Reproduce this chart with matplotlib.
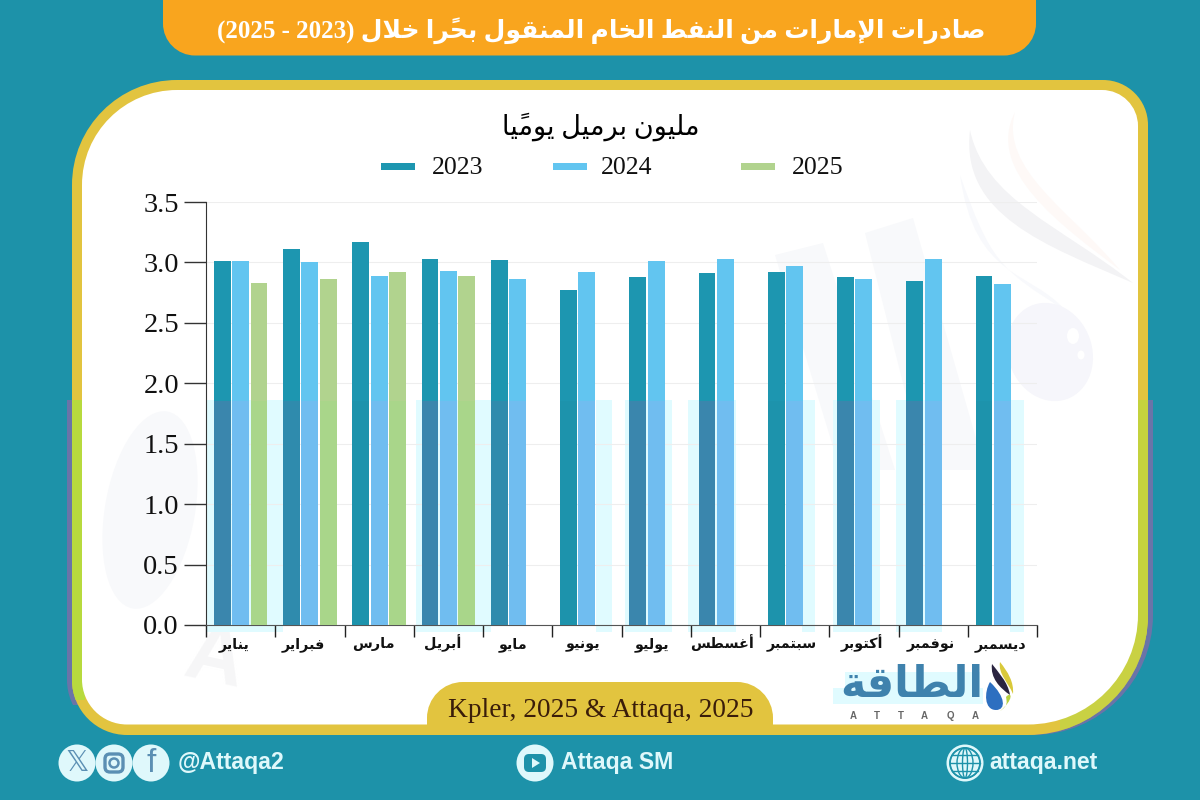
import numpy as np
import matplotlib
matplotlib.use("Agg")
import matplotlib.pyplot as plt
from matplotlib.patches import PathPatch, Circle, Rectangle, FancyBboxPatch, Polygon, Ellipse
from matplotlib.path import Path

# ---------- data ----------
months = ["يناير", "فبراير", "مارس", "أبريل", "مايو", "يونيو", "يوليو",
          "أغسطس", "سبتمبر", "أكتوبر", "نوفمبر", "ديسمبر"]
years = ["2023", "2024", "2025"]
values_2023 = [3.01, 3.11, 3.17, 3.03, 3.02, 2.77, 2.88, 2.91, 2.92, 2.88, 2.85, 2.89]
values_2024 = [3.01, 3.00, 2.89, 2.93, 2.86, 2.92, 3.01, 3.03, 2.97, 2.86, 3.03, 2.82]
values_2025 = [2.83, 2.86, 2.92, 2.89]
yticks = [0.0, 0.5, 1.0, 1.5, 2.0, 2.5, 3.0, 3.5]
title_text = "صادرات الإمارات من النفط الخام المنقول بحرًا خلال (2023 - 2025)"
unit_text = "مليون برميل يوميًا"
source_text = "Kpler, 2025 & Attaqa, 2025"
logo_text = "الطاقة"

# ---------- colours ----------
TEAL = "#1d92a9"; ORANGE = "#f9a51e"; GOLD = "#e2c43f"
C23 = "#1d96b0"; C24 = "#62c5f0"; C25 = "#b1d38e"
TINT = "#e0fbff"; PALE = "#f8f9fb"

# ---------- Arabic shaping (matplotlib draws glyphs left to right, unshaped) ----------
FORMS = {
 "ا": (0xFE8D, 0xFE8E, None, None), "أ": (0xFE83, 0xFE84, None, None), "إ": (0xFE87, 0xFE88, None, None),
 "ب": (0xFE8F, 0xFE90, 0xFE91, 0xFE92), "ت": (0xFE95, 0xFE96, 0xFE97, 0xFE98), "ة": (0xFE93, 0xFE94, None, None),
 "ح": (0xFEA1, 0xFEA2, 0xFEA3, 0xFEA4), "خ": (0xFEA5, 0xFEA6, 0xFEA7, 0xFEA8), "د": (0xFEA9, 0xFEAA, None, None),
 "ر": (0xFEAD, 0xFEAE, None, None), "س": (0xFEB1, 0xFEB2, 0xFEB3, 0xFEB4), "ص": (0xFEB9, 0xFEBA, 0xFEBB, 0xFEBC),
 "ط": (0xFEC1, 0xFEC2, 0xFEC3, 0xFEC4), "غ": (0xFECD, 0xFECE, 0xFECF, 0xFED0), "ف": (0xFED1, 0xFED2, 0xFED3, 0xFED4),
 "ق": (0xFED5, 0xFED6, 0xFED7, 0xFED8), "ك": (0xFED9, 0xFEDA, 0xFEDB, 0xFEDC), "ل": (0xFEDD, 0xFEDE, 0xFEDF, 0xFEE0),
 "م": (0xFEE1, 0xFEE2, 0xFEE3, 0xFEE4), "ن": (0xFEE5, 0xFEE6, 0xFEE7, 0xFEE8), "و": (0xFEED, 0xFEEE, None, None),
 "ي": (0xFEF1, 0xFEF2, 0xFEF3, 0xFEF4),
}
LAM_ALEF = {"ا": (0xFEFB, 0xFEFC), "أ": (0xFEF7, 0xFEF8), "إ": (0xFEF9, 0xFEFA)}
MARK = "\u064b"
MIRROR = {"(": ")", ")": "("}

def shape(text):
    letters = []
    i = 0
    while i < len(text):
        c = text[i]
        if c == "ل" and i + 1 < len(text) and text[i + 1] in LAM_ALEF:
            letters.append(("LA", text[i + 1])); i += 2; continue
        letters.append(("C", c)); i += 1
    out = []
    def joins_next(it):
        return it[0] == "C" and it[1] in FORMS and FORMS[it[1]][2] is not None
    n = len(letters)
    for k, (kind, c) in enumerate(letters):
        if c == MARK and kind == "C":
            out[-1] = out[-1] + MARK
            continue
        j = k - 1
        while j >= 0 and letters[j][1] == MARK:
            j -= 1
        prev_joins = j >= 0 and joins_next(letters[j])
        m = k + 1
        while m < n and letters[m][1] == MARK:
            m += 1
        nxt = letters[m] if m < n else None
        next_connects = nxt is not None and (nxt[0] == "LA" or nxt[1] in FORMS)
        if kind == "LA":
            f = LAM_ALEF[c]
            out.append(chr(f[1] if prev_joins else f[0]))
        elif c in FORMS:
            iso, fin, ini, med = FORMS[c]
            if prev_joins and next_connects and med:
                out.append(chr(med))
            elif prev_joins:
                out.append(chr(fin))
            elif next_connects and ini:
                out.append(chr(ini))
            else:
                out.append(chr(iso))
        else:
            out.append(c)
    res = []
    run = ""
    for g in reversed(out):
        if g.isdigit():
            run = g + run
        else:
            if run:
                res.append(run); run = ""
            res.append(MIRROR.get(g, g))
    if run:
        res.append(run)
    return "".join(res)

# ---------- figure ----------
fig = plt.figure(figsize=(12, 8), dpi=100, facecolor=TEAL)
bg = fig.add_axes([0, 0, 1, 1], zorder=0)
bg.set_xlim(0, 1200); bg.set_ylim(800, 0); bg.axis("off")

def rrect(x0, y0, x1, y1, tl, tr, br, bl):
    k = 0.4477
    v = [(x0 + tl, y0), (x1 - tr, y0),
         (x1 - tr * k, y0), (x1, y0 + tr * k), (x1, y0 + tr), (x1, y1 - br),
         (x1, y1 - br * k), (x1 - br * k, y1), (x1 - br, y1), (x0 + bl, y1),
         (x0 + bl * k, y1), (x0, y1 - bl * k), (x0, y1 - bl), (x0, y0 + tl),
         (x0, y0 + tl * k), (x0 + tl * k, y0), (x0 + tl, y0), (x0 + tl, y0)]
    c = [Path.MOVETO, Path.LINETO, Path.CURVE4, Path.CURVE4, Path.CURVE4, Path.LINETO,
         Path.CURVE4, Path.CURVE4, Path.CURVE4, Path.LINETO, Path.CURVE4, Path.CURVE4,
         Path.CURVE4, Path.LINETO, Path.CURVE4, Path.CURVE4, Path.CURVE4, Path.CLOSEPOLY]
    return Path(v, c)

def add_path(path, color, z=1, clip=None, alpha=None):
    p = PathPatch(path, facecolor=color, edgecolor="none", zorder=z, alpha=alpha)
    bg.add_patch(p)
    if clip is not None:
        r = Rectangle((clip[0], clip[1]), clip[2] - clip[0], clip[3] - clip[1], transform=bg.transData)
        p.set_clip_path(r)
    return p

outer = rrect(72, 80, 1148, 735, 105, 45, 120, 55)
outer2 = rrect(67, 80, 1153, 735, 105, 45, 120, 55)
add_path(outer2, "#6a74a8", 1, clip=(60, 400, 110, 705))
add_path(outer2, "#6a74a8", 1, clip=(1030, 400, 1160, 735))
add_path(outer, GOLD, 2)
add_path(outer, "#b7da3e", 3, clip=(60, 400, 85, 700))
add_path(outer, "#c4d23e", 3, clip=(1100, 400, 1160, 640))
add_path(outer, "#b5dc48", 3, clip=(1060, 640, 1160, 735), alpha=0.55)
add_path(rrect(82, 90, 1138, 724.5, 95, 36, 110, 45), "white", 4)

# faint watermark shapes
def blob(verts, color, z=5):
    codes = [Path.MOVETO] + [Path.CURVE4] * (len(verts) - 1)
    bg.add_patch(PathPatch(Path(verts, codes), facecolor=color, edgecolor="none", zorder=z))
blob([(970, 130), (960, 215), (1045, 245), (1133, 283), (1060, 225), (985, 200), (970, 130)], "#f3f3f5")
blob([(1015, 112), (985, 170), (1060, 225), (1120, 270), (1070, 210), (1000, 170), (1015, 112)], "#fef9f7")
blob([(960, 175), (975, 280), (1030, 270), (1065, 310), (1000, 270), (990, 260), (960, 175)], "#f8f9fc")
bg.add_patch(Ellipse((1050, 352), 84, 100, angle=-20, facecolor="#f6f6fb", edgecolor="none", zorder=5))
bg.add_patch(Ellipse((1073, 336), 12, 16, facecolor="white", edgecolor="none", zorder=5))
bg.add_patch(Ellipse((1081, 355), 7, 9, facecolor="white", edgecolor="none", zorder=5))
for poly in ([(775, 255), (823, 243), (895, 470), (840, 470)],
             [(865, 233), (913, 218), (985, 470), (925, 470)]):
    bg.add_patch(Polygon(poly, closed=True, facecolor=PALE, edgecolor="none", zorder=5))
bg.add_patch(Ellipse((150, 510), 90, 200, angle=10, facecolor=PALE, edgecolor="none", zorder=5))
bg.text(215, 660, "A", family="Liberation Sans", fontsize=58, fontweight="bold", color="#f6f6f7", rotation=-12,
        ha="center", va="center", zorder=5)

# pale colour blocks in the lower part of the plot area
for x0, x1 in [(207, 283), (416, 491), (596, 612), (625, 672), (688, 736), (802, 815),
               (833, 880), (896, 942), (1010, 1024)]:
    bg.add_patch(Rectangle((x0, 400), x1 - x0, 232, facecolor=TINT, edgecolor="none", zorder=6))

# title pill
add_path(rrect(163, -5, 1036, 55.5, 0, 0, 32, 32), ORANGE, 7)
fam = ["Liberation Serif", "DejaVu Sans"]
bg.text(601, 38, shape(title_text), family=fam, fontweight="bold", fontsize=18, color="white",
        ha="center", va="baseline", zorder=8)

# subtitle and legend
bg.text(601, 135, shape(unit_text), family=fam, fontsize=19.5, color="#000000",
        ha="center", va="baseline", zorder=8)
legend_x = [(381, 432), (553, 601), (741, 792)]
for (hx, tx), lab, col in zip(legend_x, years, [C23, C24, C25]):
    bg.add_patch(Rectangle((hx, 163), 34, 6.5, facecolor=col, edgecolor="none", zorder=8))
    bg.text(tx, 174, lab, family="Liberation Serif", fontsize=18.6, color="#111111",
            ha="left", va="baseline", zorder=8)

# source pill
add_path(rrect(427, 682, 773, 735, 36, 36, 0, 0), GOLD, 7)
bg.text(601, 717, source_text, family="Liberation Serif", fontsize=19.7, color="#3a1d0a",
        ha="center", va="baseline", zorder=8)

# ---------- chart ----------
L, R, T, B = 206, 1037, 202, 625
ax = fig.add_axes([L / 1200, 1 - B / 800, (R - L) / 1200, (B - T) / 800], zorder=2)
ax.patch.set_alpha(0)
ax.set_xlim(-0.5, 11.5); ax.set_ylim(0, 3.5)
x = np.arange(12)
pitch = 18.4 / 69.25
w = 16.8 / 69.25
low = 1.85
low_23 = ["#3a86ad", "#2f8bad", "#1d93ac", "#3a86ad", "#2f8bad", "#1d93ac", "#3a86ad",
          "#3a86ad", "#1d93ac", "#3a86ad", "#3a86ad", "#1d93ac"]
ax.bar(x - pitch, values_2023, w, color=C23, zorder=3, label=years[0])
ax.bar(x, values_2024, w, color=C24, zorder=3, label=years[1])
ax.bar(x[:4] + pitch, values_2025, w, color=C25, zorder=3, label=years[2])
ax.bar(x - pitch, np.minimum(values_2023, low), w, color=low_23, zorder=3.1)
ax.bar(x, np.minimum(values_2024, low), w, color="#70bdf0", zorder=3.1)
ax.bar(x[:4] + pitch, np.minimum(values_2025, low), w, color="#a9d68a", zorder=3.1)

ax.set_yticks(yticks)
ax.set_yticklabels([f"{v:.1f}" for v in yticks], family="Liberation Serif", fontsize=20.5, color="#111111")
ax.tick_params(axis="y", length=15.5, width=1, color="#333333", pad=4)
ax.yaxis.grid(True, color="#eeeeee", lw=0.8, zorder=1)
ax.set_axisbelow(True)
ax.set_xticks(np.arange(-0.5, 12, 1))
ax.set_xticklabels([])
ax.tick_params(axis="x", length=8.5, width=1, color="#222222")
for i, m in enumerate(months):
    ax.annotate(shape(m), (i, 0), xytext=((-6.6 + 0.46 * i) * 0.72, -16.5), textcoords="offset points",
                ha="center", va="baseline", family="DejaVu Sans", fontweight="bold", fontsize=10.4,
                color="#111111", annotation_clip=False)
for s in ("top", "right"):
    ax.spines[s].set_visible(False)
ax.spines["left"].set_color("#333333")
ax.spines["bottom"].set_color("#555555")

# ---------- logo ----------
LB = "#3f82ad"
bg.add_patch(Rectangle((845, 672), 135, 16, facecolor=TINT, edgecolor="none", zorder=6))
bg.add_patch(Rectangle((833, 688), 150, 16, facecolor=TINT, edgecolor="none", zorder=6))
bg.text(912, 697, shape(logo_text), family="DejaVu Sans", fontweight="bold", fontsize=31,
        color=LB, ha="center", va="baseline", zorder=8)
for xp, ch in zip([853, 877, 901, 924, 950, 975], "ATTAQA"):
    bg.text(xp, 716, ch, family="Liberation Sans", fontweight="bold", fontsize=7, color="#666666",
            ha="center", va="center", zorder=8)
blob([(990, 682), (984, 692), (984, 710), (996, 710), (1006, 710), (1006, 697), (990, 682)], "#2d6fc0", 8)
blob([(992, 664), (990, 678), (1000, 688), (1010, 695), (1008, 682), (998, 672), (992, 664)], "#2a2440", 8)
blob([(1000, 662), (998, 674), (1008, 682), (1013, 694), (1014, 682), (1008, 672), (1000, 662)], "#d9c93a", 8)
blob([(1006, 697), (1012, 690), (1014, 700), (1000, 711), (1008, 706), (1007, 702), (1006, 697)], "#b8d040", 8)

# ---------- footer ----------
FG = "#dff8fb"; IC = "#5b8fb3"
for cx, cy in [(77, 763), (114, 763), (151, 763), (535, 763), (965, 763)]:
    bg.add_patch(Circle((cx, cy), 18.5, facecolor=FG, edgecolor="none", zorder=7))
bg.text(77, 763, "𝕏", family="DejaVu Sans", fontsize=21, color=IC, ha="center", va="center", zorder=8)
bg.add_patch(FancyBboxPatch((105, 754), 18, 18, boxstyle="round,pad=0,rounding_size=5", facecolor="none",
                            edgecolor=IC, lw=2.4, zorder=8))
bg.add_patch(Circle((114, 763), 4.5, facecolor="none", edgecolor=IC, lw=1.8, zorder=8))
bg.text(151, 764, "f", family="Liberation Sans", fontsize=24, color=IC, ha="center", va="center", zorder=8)
bg.add_patch(FancyBboxPatch((524, 754), 22, 18, boxstyle="round,pad=0,rounding_size=5", facecolor=TEAL,
                            edgecolor="none", zorder=8))
bg.add_patch(Polygon([(532, 758), (532, 768), (540, 763)], closed=True, facecolor=FG, edgecolor="none", zorder=9))
bg.add_patch(Circle((965, 763), 15, facecolor="none", edgecolor=TEAL, lw=1.2, zorder=8))
for ww in (30, 16, 5):
    bg.add_patch(Ellipse((965, 763), ww, 30, facecolor="none", edgecolor=TEAL, lw=1, zorder=8))
for yy in (755, 763, 771):
    half = 15 if yy == 763 else 12.7
    bg.plot([965 - half, 965 + half], [yy, yy], color=TEAL, lw=1, zorder=8)
for tx, txt in [(178, "@Attaqa2"), (561, "Attaqa SM"), (989, "attaqa.net")]:
    bg.text(tx, 763, txt, family="Liberation Sans", fontweight="bold", fontsize=16.6, color=FG,
            ha="left", va="center", zorder=8)

fig.savefig("out.png", dpi=100, facecolor=TEAL)
